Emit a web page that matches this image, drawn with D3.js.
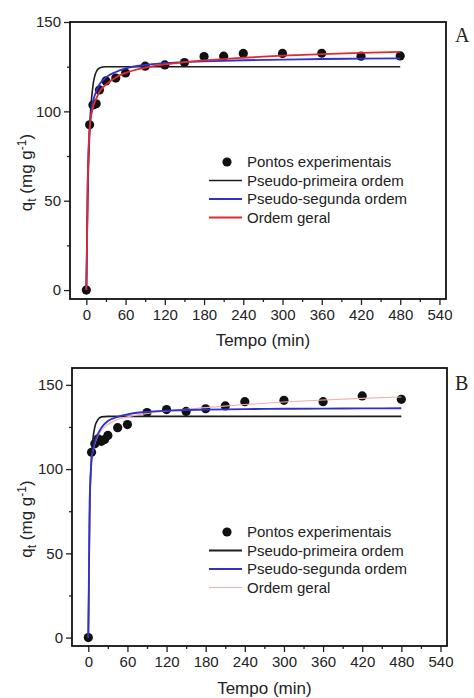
<!DOCTYPE html>
<html>
<head>
<meta charset="utf-8">
<script src="https://cdn.jsdelivr.net/npm/d3@7"></script>
<style>
  body { margin: 0; background: #fff; }
  svg { display: block; }
  text { font-family: Arial, "Liberation Sans", sans-serif; fill: #222; }
</style>
</head>
<body>
<svg id="chart" width="474" height="698"></svg>
<script>
// ---- panel A data ----
var tA = [0, 5, 10, 15, 20, 30, 45, 60, 90, 120, 150, 180, 210, 240, 300, 360, 420, 480];
var qA = [0, 92.5, 103.5, 104.2, 112, 117, 118.6, 121.5, 125.3, 126, 127.3, 130.7, 130.9, 132.4, 132.4, 132.5, 130.9, 131];

var pfoA_t = [0, 2, 5, 10, 15, 20, 30, 480];
var pfoA_q = [0, 49, 89, 114, 122, 124.2, 125, 125];
var psoA_t = [0, 2, 5, 10, 15, 20, 30, 45, 60, 90, 120, 180, 240, 300, 360, 420, 480];
var psoA_q = [0, 60, 90, 105, 111, 115, 119, 122, 124, 126, 127, 128, 128.6, 129, 129.3, 129.5, 129.7];
var genA_t = [0, 2, 5, 10, 15, 20, 30, 45, 60, 90, 120, 150, 180, 240, 300, 360, 420, 480];
var genA_q = [0, 55, 90, 102, 107, 111, 115, 119, 121.5, 124.5, 126.3, 127.5, 128.5, 130, 131.2, 132, 132.7, 133.3];

// ---- panel B data ----
var tB = [0, 5, 10, 15, 20, 25, 30, 45, 60, 90, 120, 150, 180, 210, 240, 300, 360, 420, 480];
var qB = [0, 110, 115, 118, 116.5, 117.5, 120, 124.6, 126.4, 133.6, 135.3, 134.2, 135.8, 137.5, 140, 140.8, 140, 143.4, 141.4];

var pfoB_t = [0, 2, 5, 10, 15, 20, 30, 480];
var pfoB_q = [0, 70, 108, 125, 129.5, 131, 131.3, 131.3];
var psoB_t = [0, 2, 5, 10, 15, 20, 30, 45, 60, 90, 120, 180, 240, 300, 360, 420, 480];
var psoB_q = [0, 80, 105, 116, 121, 124.5, 128.5, 131, 132.5, 134, 134.7, 135.3, 135.6, 135.8, 135.9, 136, 136.1];
var genB_t = [0, 2, 5, 10, 15, 20, 30, 45, 60, 90, 120, 180, 240, 300, 360, 420, 480];
var genB_q = [0, 80, 105, 115, 120, 123, 126.5, 129.5, 131, 133, 134.5, 136.5, 138.3, 139.8, 141, 142, 142.8];

var xTicks = [0, 60, 120, 180, 240, 300, 360, 420, 480, 540];
var yTicks = [0, 50, 100, 150];
var legendLabels = ["Pontos experimentais", "Pseudo-primeira ordem", "Pseudo-segunda ordem", "Ordem geral"];

var svg = d3.select("#chart");

function zip(t, q) { return t.map((d, i) => [d, q[i]]); }

function drawPanel(cfg) {
  var x = d3.scaleLinear().domain([-25, 550]).range([cfg.left, cfg.right]);
  var y = d3.scaleLinear().domain(cfg.yDomain).range([cfg.bottom, cfg.top]);
  var g = svg.append("g");

  // minor ticks
  var xMinor = d3.range(30, 550, 60);
  var yMinor = d3.range(25, cfg.yDomain[1], 50);
  g.append("g").attr("transform", `translate(0,${cfg.bottom})`)
    .call(d3.axisBottom(x).tickValues(xMinor).tickSize(3).tickFormat(""))
    .call(a => a.select(".domain").remove())
    .call(a => a.selectAll("line").attr("stroke", "#222").attr("stroke-width", 1.3));
  g.append("g").attr("transform", `translate(${cfg.left},0)`)
    .call(d3.axisLeft(y).tickValues(yMinor).tickSize(3).tickFormat(""))
    .call(a => a.select(".domain").remove())
    .call(a => a.selectAll("line").attr("stroke", "#222").attr("stroke-width", 1.3));

  // major ticks
  g.append("g").attr("transform", `translate(0,${cfg.bottom})`)
    .call(d3.axisBottom(x).tickValues(xTicks).tickSize(6).tickPadding(4))
    .call(a => a.select(".domain").remove())
    .call(a => a.selectAll("line").attr("stroke", "#222").attr("stroke-width", 1.3))
    .call(a => a.selectAll("text").attr("font-size", 15).attr("fill", "#222"));
  g.append("g").attr("transform", `translate(${cfg.left},0)`)
    .call(d3.axisLeft(y).tickValues(yTicks).tickSize(6).tickPadding(3))
    .call(a => a.select(".domain").remove())
    .call(a => a.selectAll("line").attr("stroke", "#222").attr("stroke-width", 1.3))
    .call(a => a.selectAll("text").attr("font-size", 15).attr("fill", "#222"));

  // plot area
  g.append("clipPath").attr("id", "clip" + cfg.name)
    .append("rect").attr("x", cfg.left).attr("y", cfg.top)
    .attr("width", cfg.right - cfg.left).attr("height", cfg.bottom - cfg.top);

  var plot = g.append("g").attr("clip-path", `url(#clip${cfg.name})`);

  plot.selectAll("circle").data(zip(cfg.t, cfg.q)).enter().append("circle")
    .attr("cx", d => x(d[0])).attr("cy", d => y(d[1])).attr("r", 4.6)
    .attr("fill", "#111");

  var line = d3.line().x(d => x(d[0])).y(d => y(d[1])).curve(d3.curveMonotoneX);
  cfg.lines.forEach(function(s) {
    plot.append("path").attr("d", line(s.data))
      .attr("fill", "none").attr("stroke", s.color).attr("stroke-width", s.width)
      .attr("stroke-linejoin", "round");
  });

  // frame
  g.append("rect").attr("x", cfg.left).attr("y", cfg.top)
    .attr("width", cfg.right - cfg.left).attr("height", cfg.bottom - cfg.top)
    .attr("fill", "none").attr("stroke", "#111").attr("stroke-width", 1.8);

  // legend
  var lg = g.append("g").attr("transform", `translate(${cfg.legX},${cfg.legY})`);
  var rowH = 18.5;
  lg.append("circle").attr("cx", 0).attr("cy", 0).attr("r", 4.6).attr("fill", "#111");
  var legStyles = [null, cfg.legendLines[0], cfg.legendLines[1], cfg.legendLines[2]];
  legendLabels.forEach(function(lbl, i) {
    if (i > 0) {
      lg.append("line").attr("x1", -18).attr("x2", 15)
        .attr("y1", i * rowH).attr("y2", i * rowH)
        .attr("stroke", legStyles[i].color).attr("stroke-width", legStyles[i].width);
    }
    lg.append("text").attr("x", 20).attr("y", i * rowH).attr("dy", "0.36em")
      .attr("font-size", 15).text(lbl);
  });

  // axis titles
  var cy = (cfg.top + cfg.bottom) / 2 + 12;
  var yl = g.append("text").attr("transform", `translate(32,${cy}) rotate(-90)`)
    .attr("text-anchor", "middle").attr("font-size", 17);
  yl.append("tspan").text("q");
  yl.append("tspan").attr("font-size", 12).attr("dy", 4).text("t");
  yl.append("tspan").attr("dy", -4).text(" (mg g");
  yl.append("tspan").attr("font-size", 12).attr("dy", -6).text("-1");
  yl.append("tspan").attr("dy", 6).text(")");

  g.append("text").attr("x", (x(0) + x(540)) / 2).attr("y", cfg.xLabelY)
    .attr("text-anchor", "middle").attr("font-size", 17).text("Tempo (min)");

  g.append("text").attr("x", 455).attr("y", cfg.letterY)
    .style("font-family", "'Liberation Serif', 'DejaVu Serif', serif")
    .attr("font-size", 20).text(cfg.name);
}

var colBlack = "#1c1c1c", colBlue = "#3030cc", colRed = "#e02a30", colPink = "#f2aeae";

drawPanel({
  name: "A", left: 70, right: 446, top: 22, bottom: 299, yDomain: [-5, 150],
  t: tA, q: qA,
  lines: [
    { data: zip(pfoA_t, pfoA_q), color: colBlack, width: 1.6 },
    { data: zip(psoA_t, psoA_q), color: colBlue, width: 1.8 },
    { data: zip(genA_t, genA_q), color: colRed, width: 1.8 }
  ],
  legendLines: [
    { color: colBlack, width: 1.6 }, { color: colBlue, width: 2 }, { color: colRed, width: 2 }
  ],
  legX: 227, legY: 162, xLabelY: 346, letterY: 42
});

drawPanel({
  name: "B", left: 72, right: 447, top: 368, bottom: 646, yDomain: [-5, 160],
  t: tB, q: qB,
  lines: [
    { data: zip(pfoB_t, pfoB_q), color: colBlack, width: 1.6 },
    { data: zip(genB_t, genB_q), color: colPink, width: 1.1 },
    { data: zip(psoB_t, psoB_q), color: colBlue, width: 1.8 }
  ],
  legendLines: [
    { color: colBlack, width: 2 }, { color: colBlue, width: 2.2 }, { color: colPink, width: 1.1 }
  ],
  legX: 227, legY: 532, xLabelY: 694, letterY: 390
});
</script>
</body>
</html>
